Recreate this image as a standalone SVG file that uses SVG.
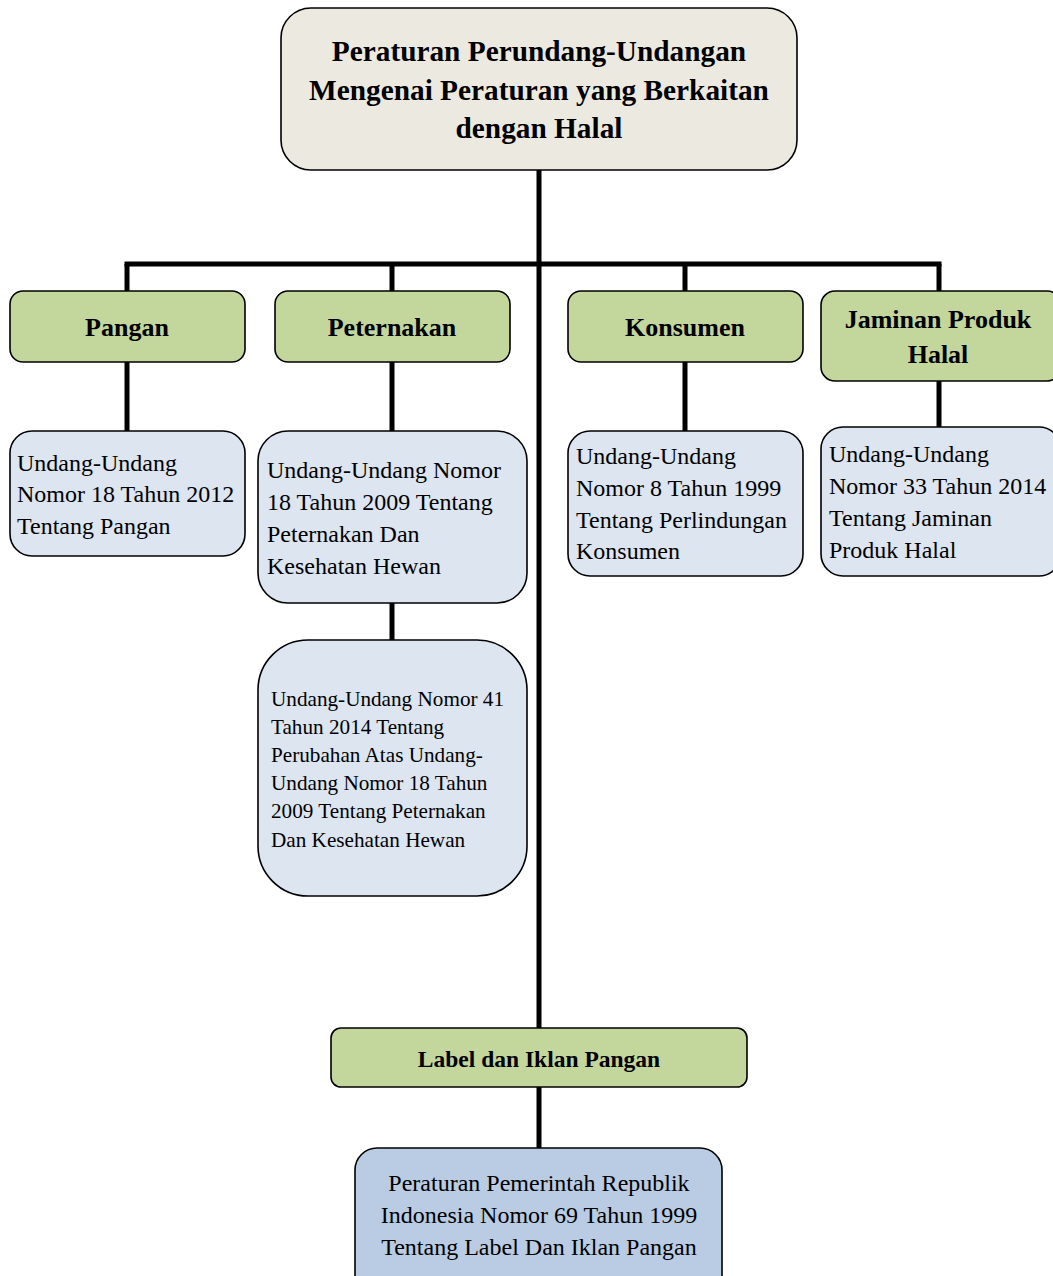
<svg xmlns="http://www.w3.org/2000/svg" width="1053" height="1276" viewBox="0 0 1053 1276">
<style>
.box{stroke:#000;stroke-width:1.6}
.top{fill:#ECEAE0}
.grn{fill:#C3D69B}
.blu{fill:#DCE5F0}
.blu2{fill:#B9CCE3}
.ln{stroke:#000;stroke-width:5;fill:none}
text{font-family:"Liberation Serif","Times New Roman",serif;fill:#000}
.b{font-weight:bold}
.c{text-anchor:middle}
.t{font-size:24px}
.s{font-size:21.2px}
.h{font-size:26px}
</style>
<rect width="1053" height="1276" fill="#fff"/>
<g id="connectors">
<line class="ln" x1="539" y1="170" x2="539" y2="1028"/>
<line class="ln" x1="124.5" y1="264" x2="941.5" y2="264"/>
<line class="ln" x1="127" y1="264" x2="127" y2="291"/>
<line class="ln" x1="392" y1="264" x2="392" y2="291"/>
<line class="ln" x1="685" y1="264" x2="685" y2="291"/>
<line class="ln" x1="939" y1="264" x2="939" y2="291"/>
<line class="ln" x1="127" y1="362" x2="127" y2="431"/>
<line class="ln" x1="392" y1="362" x2="392" y2="431"/>
<line class="ln" x1="685" y1="362" x2="685" y2="431"/>
<line class="ln" x1="939" y1="381" x2="939" y2="427"/>
<line class="ln" x1="392" y1="603" x2="392" y2="640"/>
<line class="ln" x1="539" y1="1087" x2="539" y2="1148"/>
</g>
<g id="root">
<rect class="box top" x="281" y="8" width="516" height="162" rx="30"/>
<text class="b c" x="539" y="61" font-size="29.3">Peraturan Perundang-Undangan</text>
<text class="b c" x="539" y="100" font-size="29.3">Mengenai Peraturan yang Berkaitan</text>
<text class="b c" x="539" y="138" font-size="29.3">dengan Halal</text>
</g>
<g id="pangan">
<rect class="box grn" x="10" y="291" width="235" height="71" rx="13"/>
<text class="b c h" x="127" y="336">Pangan</text>
</g>
<g id="peternakan">
<rect class="box grn" x="275" y="291" width="235" height="71" rx="13"/>
<text class="b c h" x="392" y="336">Peternakan</text>
</g>
<g id="konsumen">
<rect class="box grn" x="568" y="291" width="235" height="71" rx="13"/>
<text class="b c h" x="685" y="336">Konsumen</text>
</g>
<g id="jaminan">
<rect class="box grn" x="821" y="291" width="240" height="90" rx="14"/>
<text class="b c h" x="938" y="328">Jaminan Produk</text>
<text class="b c h" x="938" y="363">Halal</text>
</g>
<g id="uu-pangan">
<rect class="box blu" x="10" y="431" width="235" height="125" rx="22"/>
<text class="t" x="17" y="471">Undang-Undang</text>
<text class="t" x="17" y="502">Nomor 18 Tahun 2012</text>
<text class="t" x="17" y="534">Tentang Pangan</text>
</g>
<g id="uu-peternakan">
<rect class="box blu" x="258" y="431" width="269" height="172" rx="30"/>
<text class="t" x="267" y="478">Undang-Undang Nomor</text>
<text class="t" x="267" y="510">18 Tahun 2009 Tentang</text>
<text class="t" x="267" y="542">Peternakan Dan</text>
<text class="t" x="267" y="574">Kesehatan Hewan</text>
</g>
<g id="uu-peternakan-2014">
<rect class="box blu" x="258" y="640" width="269" height="256" rx="50"/>
<text class="s" x="271" y="706">Undang-Undang Nomor 41</text>
<text class="s" x="271" y="734">Tahun 2014 Tentang</text>
<text class="s" x="271" y="762">Perubahan Atas Undang-</text>
<text class="s" x="271" y="790">Undang Nomor 18 Tahun</text>
<text class="s" x="271" y="818">2009 Tentang Peternakan</text>
<text class="s" x="271" y="847">Dan Kesehatan Hewan</text>
</g>
<g id="uu-konsumen">
<rect class="box blu" x="568" y="431" width="235" height="145" rx="22"/>
<text class="t" x="576" y="464">Undang-Undang</text>
<text class="t" x="576" y="496">Nomor 8 Tahun 1999</text>
<text class="t" x="576" y="528">Tentang Perlindungan</text>
<text class="t" x="576" y="559">Konsumen</text>
</g>
<g id="uu-jaminan">
<rect class="box blu" x="821" y="427" width="240" height="149" rx="22"/>
<text class="t" x="829" y="462">Undang-Undang</text>
<text class="t" x="829" y="494">Nomor 33 Tahun 2014</text>
<text class="t" x="829" y="526">Tentang Jaminan</text>
<text class="t" x="829" y="558">Produk Halal</text>
</g>
<g id="label">
<rect class="box grn" x="331" y="1028" width="416" height="59" rx="10"/>
<text class="b c" x="539" y="1067" font-size="23.5">Label dan Iklan Pangan</text>
</g>
<g id="pp-label">
<rect class="box blu2" x="355" y="1148" width="367" height="150" rx="22"/>
<text class="c t" x="539" y="1191">Peraturan Pemerintah Republik</text>
<text class="c t" x="539" y="1223">Indonesia Nomor 69 Tahun 1999</text>
<text class="c t" x="539" y="1255">Tentang Label Dan Iklan Pangan</text>
</g>
</svg>
